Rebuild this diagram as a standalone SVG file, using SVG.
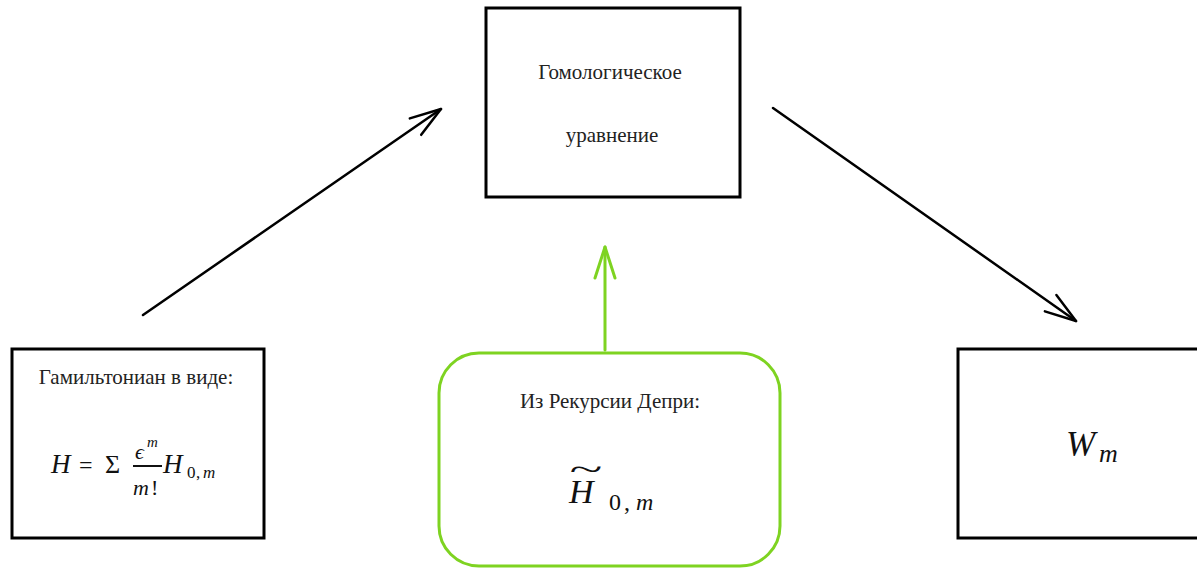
<svg xmlns="http://www.w3.org/2000/svg" width="1197" height="568" viewBox="0 0 1197 568">
  <style>
    .box { fill: #ffffff; stroke: #000000; stroke-width: 3; }
    .gbox { fill: #ffffff; stroke: #7ed321; stroke-width: 3; }
    .lbl { font-family: "Liberation Serif", "DejaVu Serif", serif; font-size: 21px; fill: #222222; text-anchor: middle; }
    .math { font-family: "Liberation Serif", "DejaVu Serif", serif; font-style: italic; fill: #111111; }
    .up { font-family: "Liberation Serif", "DejaVu Serif", serif; font-style: normal; fill: #111111; }
    .edge { fill: none; stroke: #000000; stroke-width: 2.5; stroke-linecap: round; }
    .gedge { fill: none; stroke: #7ed321; stroke-width: 3; stroke-linecap: round; }
  </style>
  <defs>
    <marker id="arrowBlack" markerUnits="userSpaceOnUse" markerWidth="40" markerHeight="30" refX="0" refY="0" viewBox="-35 -15 40 30" orient="auto" overflow="visible">
      <path d="M -31 -10 L 0 0 L -31 10" fill="none" stroke="#000000" stroke-width="2.5" stroke-linecap="round" stroke-linejoin="round"/>
    </marker>
    <marker id="arrowGreen" markerUnits="userSpaceOnUse" markerWidth="40" markerHeight="30" refX="0" refY="0" viewBox="-35 -15 40 30" orient="auto" overflow="visible">
      <path d="M -31 -10 L 0 0 L -31 10" fill="none" stroke="#7ed321" stroke-width="3" stroke-linecap="round" stroke-linejoin="round"/>
    </marker>
  </defs>

  <rect width="1197" height="568" fill="#ffffff"/>

  <!-- connectors -->
  <g id="connectors">
    <line class="edge" x1="143" y1="315" x2="441" y2="109" marker-end="url(#arrowBlack)"/>
    <line class="edge" x1="773" y1="108" x2="1076" y2="321" marker-end="url(#arrowBlack)"/>
    <line class="gedge" x1="605" y1="350" x2="605" y2="247" marker-end="url(#arrowGreen)"/>
  </g>

  <!-- Hamiltonian node -->
  <g id="hamiltonian">
    <rect class="box" x="12" y="349" width="252" height="189"/>
    <text class="lbl" x="136" y="384">Гамильтониан в виде:</text>
    <text class="math" x="51" y="473" font-size="27">H</text>
    <text class="up" x="79" y="473" font-size="24">=</text>
    <text class="up" x="105" y="473" font-size="26">Σ</text>
    <text class="math" x="135" y="459" font-size="22">ϵ</text>
    <text class="math" x="147" y="447" font-size="15">m</text>
    <line x1="133" y1="466" x2="162" y2="466" stroke="#111111" stroke-width="2"/>
    <text class="math" x="133" y="495" font-size="22">m</text>
    <text class="up" x="151" y="495" font-size="22">!</text>
    <text class="math" x="163" y="473" font-size="27">H</text>
    <text class="up" x="187" y="478" font-size="17">0</text>
    <text class="up" x="196" y="478" font-size="17">,</text>
    <text class="math" x="203" y="478" font-size="17">m</text>
  </g>

  <!-- Homological equation node -->
  <g id="homological">
    <rect class="box" x="486" y="8" width="254" height="189"/>
    <text class="lbl" x="610" y="79">Гомологическое</text>
    <text class="lbl" x="612" y="142">уравнение</text>
  </g>

  <!-- Deprit recursion node -->
  <g id="deprit">
    <rect class="gbox" x="439" y="353" width="341" height="213" rx="40" ry="40"/>
    <text class="lbl" x="610" y="408">Из Рекурсии Депри:</text>
    <text class="up" x="586" y="480" font-size="32" text-anchor="middle" transform="translate(586 0) scale(1.9 1) translate(-586 0)">~</text>
    <text class="math" x="569" y="503" font-size="34">H</text>
    <text class="up" x="609" y="510" font-size="24">0</text>
    <text class="up" x="624" y="510" font-size="24">,</text>
    <text class="math" x="636" y="510" font-size="24">m</text>
  </g>

  <!-- W_m node -->
  <g id="wm">
    <rect class="box" x="958" y="349" width="245" height="189"/>
    <text class="math" x="1066" y="456" font-size="35">W</text>
    <text class="math" x="1099" y="462" font-size="26">m</text>
  </g>
</svg>
